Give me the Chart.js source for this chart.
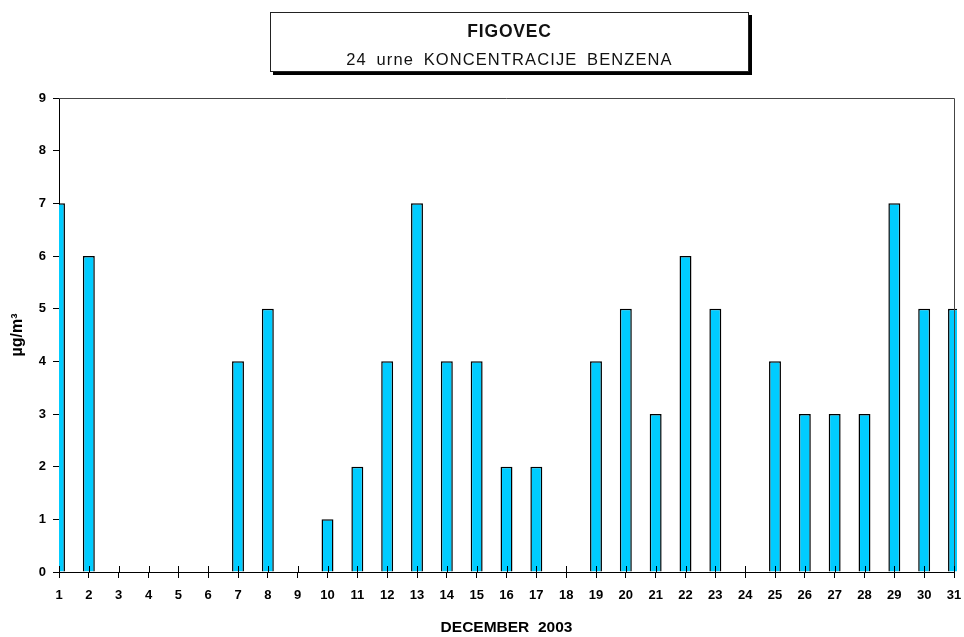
<!DOCTYPE html>
<html>
<head>
<meta charset="utf-8">
<script src="https://cdn.jsdelivr.net/npm/chart.js@4.4.1/dist/chart.umd.min.js"></script>
<style>
  html, body { margin: 0; padding: 0; background: #fff; }
  #wrap { position: relative; width: 964px; height: 637px; }
  #naslov {
    position: absolute; left: 270px; top: 12px; width: 477px; height: 58px;
    border: 1px solid #222; background: #fff; box-shadow: 3px 3px 0 #000;
    font-family: "Liberation Sans", Arial, sans-serif; text-align: center; color: #111;
  }
  #naslov .l1 { font-weight: bold; font-size: 17.5px; letter-spacing: 0.8px; margin-top: 8px; line-height: 20px; }
  #naslov .l2 { font-size: 16.5px; letter-spacing: 1.1px; word-spacing: 4px; margin-top: 8px; line-height: 20px; }
</style>
</head>
<body>
<div id="wrap">
  <canvas id="graf" width="964" height="637"></canvas>
  <div id="naslov"><div class="l1">FIGOVEC</div><div class="l2">24 urne KONCENTRACIJE BENZENA</div></div>
</div>
<script>
// dnevi v decembru in 24-urne koncentracije benzena (µg/m3)
const dnevi = ['1','2','3','4','5','6','7','8','9','10','11','12','13','14','15','16',
               '17','18','19','20','21','22','23','24','25','26','27','28','29','30','31'];
const benzen = [7, 6, 0, 0, 0, 0, 4, 5, 0, 1, 2, 4, 7, 4, 4, 2,
                2, 0, 4, 5, 3, 6, 5, 0, 4, 3, 3, 3, 7, 5, 5];
const yTicks = [0, 1, 2, 3, 4, 5, 6, 7, 8, 9];

const pisava = "'Liberation Sans', Arial, sans-serif";

// okvir (zgoraj, desno) in notranji del oznak na osi x
const okvir = {
  id: 'okvir',
  afterDatasetsDraw(chart) {
    const { ctx, chartArea: a, scales } = chart;
    ctx.save();
    ctx.strokeStyle = '#444';
    ctx.lineWidth = 1;
    ctx.beginPath();
    ctx.moveTo(a.left, a.top + 0.5);
    ctx.lineTo(a.right + 0.5, a.top + 0.5);
    ctx.lineTo(a.right + 0.5, a.bottom);
    ctx.stroke();
    ctx.strokeStyle = '#000';
    ctx.beginPath();
    scales.x.ticks.forEach((t, i) => {
      const x = Math.round(scales.x.getPixelForTick(i)) + 0.5;
      ctx.moveTo(x, a.bottom - 6);
      ctx.lineTo(x, a.bottom);
    });
    ctx.stroke();
    ctx.restore();
  }
};

new Chart(document.getElementById('graf').getContext('2d'), {
  type: 'bar',
  data: {
    labels: dnevi,
    datasets: [{
      data: benzen,
      backgroundColor: '#00CCFF',
      borderColor: '#000',
      borderWidth: 1.5,
      borderSkipped: 'bottom',
      barPercentage: 0.4,
      categoryPercentage: 1,
      clip: { left: 0, top: 5, right: 3, bottom: 0 }
    }]
  },
  options: {
    responsive: false,
    animation: false,
    layout: { padding: { top: 98, right: 10, left: 0, bottom: 0 } },
    plugins: { legend: { display: false }, tooltip: { enabled: false } },
    scales: {
      x: {
        offset: false,
        grid: { offset: false, drawOnChartArea: false, drawTicks: true, tickLength: 6, color: '#000' },
        border: { color: '#000', width: 1 },
        ticks: { color: '#000', padding: 10, maxRotation: 0, autoSkip: false, font: { family: pisava, size: 13, weight: 'bold' } },
        title: { display: true, text: 'DECEMBER  2003', color: '#000', padding: { top: 0, bottom: 0 },
                 font: { family: pisava, size: 15.5, weight: 'bold' } },
        afterFit: s => { s.height = 65; s.paddingRight = 0; s.paddingLeft = 0; }
      },
      y: {
        min: 0, max: 9,
        afterBuildTicks: s => { s.ticks = yTicks.map(v => ({ value: v })); },
        grid: { drawOnChartArea: false, drawTicks: true, tickLength: 6, color: '#000' },
        border: { color: '#000', width: 1 },
        ticks: { color: '#000', padding: 7, font: { family: pisava, size: 13, weight: 'bold' } },
        title: { display: true, text: 'µg/m³', color: '#000', padding: { top: 8, bottom: 0 },
                 font: { family: pisava, size: 16, weight: 'bold' } },
        afterFit: s => { s.width = 59; }
      }
    }
  },
  plugins: [okvir]
});
</script>
</body>
</html>
